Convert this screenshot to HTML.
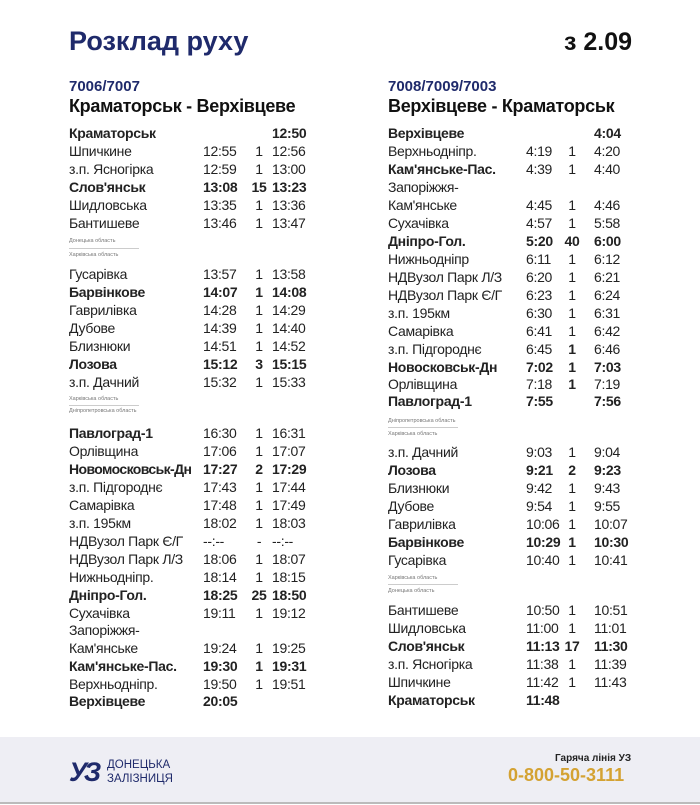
<!DOCTYPE html>
<html><head><meta charset="utf-8"><style>
body{margin:0;width:700px;height:805px;background:#fff;position:relative;overflow:hidden;font-family:"Liberation Sans","DejaVu Sans",sans-serif;color:#222}
.t{position:absolute;white-space:nowrap}
.r{position:absolute;height:18px;line-height:18px;font-size:14px;letter-spacing:-0.3px;white-space:nowrap;width:300px}
.r span{position:absolute;top:0}
.L{left:69px}.R{left:388px}
.L .a{left:134px}.L .s{left:180px;width:20px;text-align:center}.L .d{left:203px}
.R .a{left:138px}.R .s{left:174px;width:20px;text-align:center}.R .d{left:206px}
.b{font-weight:bold}
.sm{position:absolute;font-size:5.5px;color:#777;white-space:nowrap}
.ln{position:absolute;height:1px;background:#ccc;width:70px}
</style></head><body>
<div class="t" style="left:69px;top:26px;font-size:27px;font-weight:bold;color:#1f2a6b">Розклад руху</div>
<div class="t" style="left:564px;top:28px;font-size:25px;font-weight:bold;color:#111">з 2.09</div>
<div class="t" style="left:69px;top:78px;font-size:15px;font-weight:bold;color:#1f2a6b">7006/7007</div>
<div class="t" style="left:69px;top:96px;font-size:18px;letter-spacing:-0.3px;font-weight:bold;color:#111">Краматорськ - Верхівцеве</div>
<div class="t" style="left:388px;top:78px;font-size:15px;font-weight:bold;color:#1f2a6b">7008/7009/7003</div>
<div class="t" style="left:388px;top:96px;font-size:18px;letter-spacing:-0.3px;font-weight:bold;color:#111">Верхівцеве - Краматорськ</div>

<div class="r L b" style="top:124px"><span>Краматорськ</span><span class="d">12:50</span></div>
<div class="r L" style="top:142px"><span>Шпичкине</span><span class="a">12:55</span><span class="s">1</span><span class="d">12:56</span></div>
<div class="r L" style="top:160px"><span>з.п. Ясногірка</span><span class="a">12:59</span><span class="s">1</span><span class="d">13:00</span></div>
<div class="r L b" style="top:178px"><span>Слов'янськ</span><span class="a">13:08</span><span class="s">15</span><span class="d">13:23</span></div>
<div class="r L" style="top:196px"><span>Шидловська</span><span class="a">13:35</span><span class="s">1</span><span class="d">13:36</span></div>
<div class="r L" style="top:214px"><span>Бантишеве</span><span class="a">13:46</span><span class="s">1</span><span class="d">13:47</span></div>
<div class="sm" style="left:69px;top:238px">Донецька область</div><div class="ln" style="left:69px;top:248px"></div>
<div class="sm" style="left:69px;top:252px">Харківська область</div>
<div class="r L" style="top:265px"><span>Гусарівка</span><span class="a">13:57</span><span class="s">1</span><span class="d">13:58</span></div>
<div class="r L b" style="top:283px"><span>Барвінкове</span><span class="a">14:07</span><span class="s">1</span><span class="d">14:08</span></div>
<div class="r L" style="top:301px"><span>Гаврилівка</span><span class="a">14:28</span><span class="s">1</span><span class="d">14:29</span></div>
<div class="r L" style="top:319px"><span>Дубове</span><span class="a">14:39</span><span class="s">1</span><span class="d">14:40</span></div>
<div class="r L" style="top:337px"><span>Близнюки</span><span class="a">14:51</span><span class="s">1</span><span class="d">14:52</span></div>
<div class="r L b" style="top:355px"><span>Лозова</span><span class="a">15:12</span><span class="s">3</span><span class="d">15:15</span></div>
<div class="r L" style="top:373px"><span>з.п. Дачний</span><span class="a">15:32</span><span class="s">1</span><span class="d">15:33</span></div>
<div class="sm" style="left:69px;top:396px">Харківська область</div><div class="ln" style="left:69px;top:405px"></div>
<div class="sm" style="left:69px;top:408px">Дніпропетровська область</div>
<div class="r L b" style="top:424px"><span>Павлоград-1</span><span class="a" style="font-weight:normal">16:30</span><span class="s" style="font-weight:normal">1</span><span class="d" style="font-weight:normal">16:31</span></div>
<div class="r L" style="top:442px"><span>Орлівщина</span><span class="a">17:06</span><span class="s">1</span><span class="d">17:07</span></div>
<div class="r L b" style="top:460px"><span style="letter-spacing:-0.6px">Новомосковськ-Дн</span><span class="a">17:27</span><span class="s">2</span><span class="d">17:29</span></div>
<div class="r L" style="top:478px"><span>з.п. Підгороднє</span><span class="a">17:43</span><span class="s">1</span><span class="d">17:44</span></div>
<div class="r L" style="top:496px"><span>Самарівка</span><span class="a">17:48</span><span class="s">1</span><span class="d">17:49</span></div>
<div class="r L" style="top:514px"><span>з.п. 195км</span><span class="a">18:02</span><span class="s">1</span><span class="d">18:03</span></div>
<div class="r L" style="top:532px"><span>НДВузол Парк Є/Г</span><span class="a">--:--</span><span class="s">-</span><span class="d">--:--</span></div>
<div class="r L" style="top:550px"><span>НДВузол Парк Л/З</span><span class="a">18:06</span><span class="s">1</span><span class="d">18:07</span></div>
<div class="r L" style="top:568px"><span>Нижньодніпр.</span><span class="a">18:14</span><span class="s">1</span><span class="d">18:15</span></div>
<div class="r L b" style="top:586px"><span>Дніпро-Гол.</span><span class="a">18:25</span><span class="s">25</span><span class="d">18:50</span></div>
<div class="r L" style="top:604px"><span>Сухачівка</span><span class="a">19:11</span><span class="s">1</span><span class="d">19:12</span></div>
<div class="r L" style="top:621px"><span>Запоріжжя-</span></div>
<div class="r L" style="top:639px"><span>Кам'янське</span><span class="a">19:24</span><span class="s">1</span><span class="d">19:25</span></div>
<div class="r L b" style="top:657px"><span>Кам'янське-Пас.</span><span class="a">19:30</span><span class="s">1</span><span class="d">19:31</span></div>
<div class="r L" style="top:675px"><span>Верхньодніпр.</span><span class="a">19:50</span><span class="s">1</span><span class="d">19:51</span></div>
<div class="r L b" style="top:692px"><span>Верхівцеве</span><span class="a">20:05</span></div>

<div class="r R b" style="top:124px"><span>Верхівцеве</span><span class="d">4:04</span></div>
<div class="r R" style="top:142px"><span>Верхньодніпр.</span><span class="a">4:19</span><span class="s">1</span><span class="d">4:20</span></div>
<div class="r R" style="top:160px"><span class="b">Кам'янське-Пас.</span><span class="a">4:39</span><span class="s">1</span><span class="d">4:40</span></div>
<div class="r R" style="top:178px"><span>Запоріжжя-</span></div>
<div class="r R" style="top:196px"><span>Кам'янське</span><span class="a">4:45</span><span class="s">1</span><span class="d">4:46</span></div>
<div class="r R" style="top:214px"><span>Сухачівка</span><span class="a">4:57</span><span class="s">1</span><span class="d">5:58</span></div>
<div class="r R b" style="top:232px"><span>Дніпро-Гол.</span><span class="a">5:20</span><span class="s">40</span><span class="d">6:00</span></div>
<div class="r R" style="top:250px"><span>Нижньодніпр</span><span class="a">6:11</span><span class="s">1</span><span class="d">6:12</span></div>
<div class="r R" style="top:268px"><span>НДВузол Парк Л/З</span><span class="a">6:20</span><span class="s">1</span><span class="d">6:21</span></div>
<div class="r R" style="top:286px"><span>НДВузол Парк Є/Г</span><span class="a">6:23</span><span class="s">1</span><span class="d">6:24</span></div>
<div class="r R" style="top:304px"><span>з.п. 195км</span><span class="a">6:30</span><span class="s">1</span><span class="d">6:31</span></div>
<div class="r R" style="top:322px"><span>Самарівка</span><span class="a">6:41</span><span class="s">1</span><span class="d">6:42</span></div>
<div class="r R" style="top:340px"><span>з.п. Підгороднє</span><span class="a">6:45</span><span class="s b">1</span><span class="d">6:46</span></div>
<div class="r R b" style="top:358px"><span>Новосковськ-Дн</span><span class="a">7:02</span><span class="s">1</span><span class="d">7:03</span></div>
<div class="r R" style="top:375px"><span>Орлівщина</span><span class="a">7:18</span><span class="s b">1</span><span class="d">7:19</span></div>
<div class="r R b" style="top:392px"><span>Павлоград-1</span><span class="a">7:55</span><span class="d">7:56</span></div>
<div class="sm" style="left:388px;top:418px">Дніпропетровська область</div><div class="ln" style="left:388px;top:427px"></div>
<div class="sm" style="left:388px;top:431px">Харківська область</div>
<div class="r R" style="top:443px"><span>з.п. Дачний</span><span class="a">9:03</span><span class="s">1</span><span class="d">9:04</span></div>
<div class="r R b" style="top:461px"><span>Лозова</span><span class="a">9:21</span><span class="s">2</span><span class="d">9:23</span></div>
<div class="r R" style="top:479px"><span>Близнюки</span><span class="a">9:42</span><span class="s">1</span><span class="d">9:43</span></div>
<div class="r R" style="top:497px"><span>Дубове</span><span class="a">9:54</span><span class="s">1</span><span class="d">9:55</span></div>
<div class="r R" style="top:515px"><span>Гаврилівка</span><span class="a">10:06</span><span class="s">1</span><span class="d">10:07</span></div>
<div class="r R b" style="top:533px"><span>Барвінкове</span><span class="a">10:29</span><span class="s">1</span><span class="d">10:30</span></div>
<div class="r R" style="top:551px"><span>Гусарівка</span><span class="a">10:40</span><span class="s">1</span><span class="d">10:41</span></div>
<div class="sm" style="left:388px;top:575px">Харківська область</div><div class="ln" style="left:388px;top:584px"></div>
<div class="sm" style="left:388px;top:588px">Донецька область</div>
<div class="r R" style="top:601px"><span>Бантишеве</span><span class="a">10:50</span><span class="s">1</span><span class="d">10:51</span></div>
<div class="r R" style="top:619px"><span>Шидловська</span><span class="a">11:00</span><span class="s">1</span><span class="d">11:01</span></div>
<div class="r R b" style="top:637px"><span>Слов'янськ</span><span class="a">11:13</span><span class="s">17</span><span class="d">11:30</span></div>
<div class="r R" style="top:655px"><span>з.п. Ясногірка</span><span class="a">11:38</span><span class="s">1</span><span class="d">11:39</span></div>
<div class="r R" style="top:673px"><span>Шпичкине</span><span class="a">11:42</span><span class="s">1</span><span class="d">11:43</span></div>
<div class="r R b" style="top:691px"><span>Краматорськ</span><span class="a">11:48</span></div>

<div style="position:absolute;left:0;top:737px;width:700px;height:65px;background:#eeeef4;border-bottom:2px solid #bbb"></div>
<div class="t" style="left:69px;top:757px;font-size:27px;font-weight:bold;color:#1f2a6b;letter-spacing:-3px;font-style:italic">УЗ</div>
<div class="t" style="left:107px;top:758px;font-size:11.5px;line-height:14px;color:#1f2a6b">ДОНЕЦЬКА<br>ЗАЛІЗНИЦЯ</div>
<div class="t" style="left:555px;top:753px;font-size:10px;font-weight:bold;color:#222">Гаряча лінія УЗ</div>
<div class="t" style="left:508px;top:765px;font-size:18px;font-weight:bold;color:#d4a232">0-800-50-3111</div>
</body></html>
